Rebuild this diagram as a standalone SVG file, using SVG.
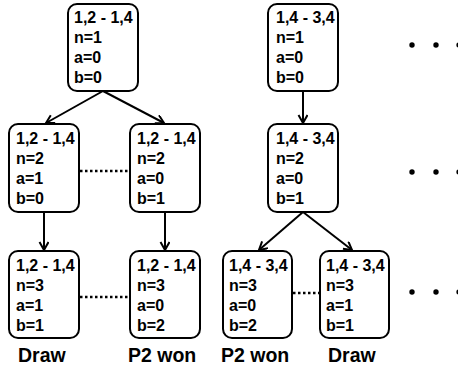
<svg xmlns="http://www.w3.org/2000/svg" width="458" height="367" viewBox="0 0 458 367">
<style>
.box{fill:#fff;stroke:#000;stroke-width:2}
.t{font-family:"Liberation Sans",Arial,sans-serif;font-weight:bold;font-size:16px;fill:#000}
.lbl{font-family:"Liberation Sans",Arial,sans-serif;font-weight:bold;font-size:19.5px;fill:#000}
.edge{stroke:#000;stroke-width:2;fill:none;marker-end:url(#arr)}
.dot{stroke:#000;stroke-width:2.5;stroke-dasharray:2.5 2.5;fill:none}
</style>
<defs>
<marker id="arr" markerWidth="12" markerHeight="12" refX="10" refY="5" orient="auto" markerUnits="userSpaceOnUse">
<path d="M2,0.5 L10,5 L2,9.5" fill="none" stroke="#000" stroke-width="2"/>
</marker>
</defs>
<rect width="458" height="367" fill="#fff"/>
<g id="connectors">
<line class="edge" x1="103" y1="91" x2="46" y2="123"/>
<line class="edge" x1="103" y1="91" x2="164" y2="123"/>
<line class="edge" x1="44" y1="212" x2="44" y2="250"/>
<line class="edge" x1="165" y1="212" x2="165" y2="250"/>
<line class="edge" x1="303" y1="91" x2="303" y2="123"/>
<line class="edge" x1="303" y1="212" x2="259" y2="250"/>
<line class="edge" x1="303" y1="212" x2="352" y2="250"/>
<line class="dot" x1="80" y1="171" x2="129" y2="171"/>
<line class="dot" x1="80" y1="297" x2="129" y2="297"/>
<line class="dot" x1="293" y1="293" x2="319" y2="293"/>
</g>
<g id="nA"><rect class="box" x="68" y="4" width="70" height="87" rx="9"/>
<text class="t" x="74" y="23">1,2 - 1,4</text><text class="t" x="74" y="43">n=1</text><text class="t" x="74" y="63">a=0</text><text class="t" x="74" y="83">b=0</text></g>
<g id="nB"><rect class="box" x="9" y="124" width="70" height="88" rx="9"/>
<text class="t" x="16" y="144">1,2 - 1,4</text><text class="t" x="16" y="164">n=2</text><text class="t" x="16" y="184">a=1</text><text class="t" x="16" y="204">b=0</text></g>
<g id="nC"><rect class="box" x="130" y="124" width="70" height="88" rx="9"/>
<text class="t" x="137" y="144">1,2 - 1,4</text><text class="t" x="137" y="164">n=2</text><text class="t" x="137" y="184">a=0</text><text class="t" x="137" y="204">b=1</text></g>
<g id="nD"><rect class="box" x="9" y="251" width="70" height="87" rx="9"/>
<text class="t" x="16" y="271">1,2 - 1,4</text><text class="t" x="16" y="291">n=3</text><text class="t" x="16" y="311">a=1</text><text class="t" x="16" y="331">b=1</text></g>
<g id="nE"><rect class="box" x="130" y="251" width="70" height="87" rx="9"/>
<text class="t" x="137" y="271">1,2 - 1,4</text><text class="t" x="137" y="291">n=3</text><text class="t" x="137" y="311">a=0</text><text class="t" x="137" y="331">b=2</text></g>
<g id="nR1"><rect class="box" x="268" y="4" width="70" height="87" rx="9"/>
<text class="t" x="276" y="23">1,4 - 3,4</text><text class="t" x="276" y="43">n=1</text><text class="t" x="276" y="63">a=0</text><text class="t" x="276" y="83">b=0</text></g>
<g id="nR2"><rect class="box" x="268" y="124" width="70" height="88" rx="9"/>
<text class="t" x="276" y="144">1,4 - 3,4</text><text class="t" x="276" y="164">n=2</text><text class="t" x="276" y="184">a=0</text><text class="t" x="276" y="204">b=1</text></g>
<g id="nR3"><rect class="box" x="223" y="251" width="69" height="87" rx="9"/>
<text class="t" x="229" y="271">1,4 - 3,4</text><text class="t" x="229" y="291">n=3</text><text class="t" x="229" y="311">a=0</text><text class="t" x="229" y="331">b=2</text></g>
<g id="nR4"><rect class="box" x="320" y="251" width="69" height="87" rx="9"/>
<text class="t" x="326" y="271">1,4 - 3,4</text><text class="t" x="326" y="291">n=3</text><text class="t" x="326" y="311">a=1</text><text class="t" x="326" y="331">b=1</text></g>
<g id="labels">
<text class="lbl" x="18" y="362">Draw</text>
<text class="lbl" x="128" y="362">P2 won</text>
<text class="lbl" x="221" y="362">P2 won</text>
<text class="lbl" x="328" y="362">Draw</text>
</g>
<g id="ellipses" fill="#000">
<circle cx="412" cy="45" r="2.7"/><circle cx="436" cy="45" r="2.7"/><circle cx="459" cy="45" r="2.7"/>
<circle cx="412" cy="172" r="2.7"/><circle cx="436" cy="172" r="2.7"/><circle cx="459" cy="172" r="2.7"/>
<circle cx="412" cy="292" r="2.7"/><circle cx="436" cy="292" r="2.7"/><circle cx="459" cy="292" r="2.7"/>
</g>
</svg>
